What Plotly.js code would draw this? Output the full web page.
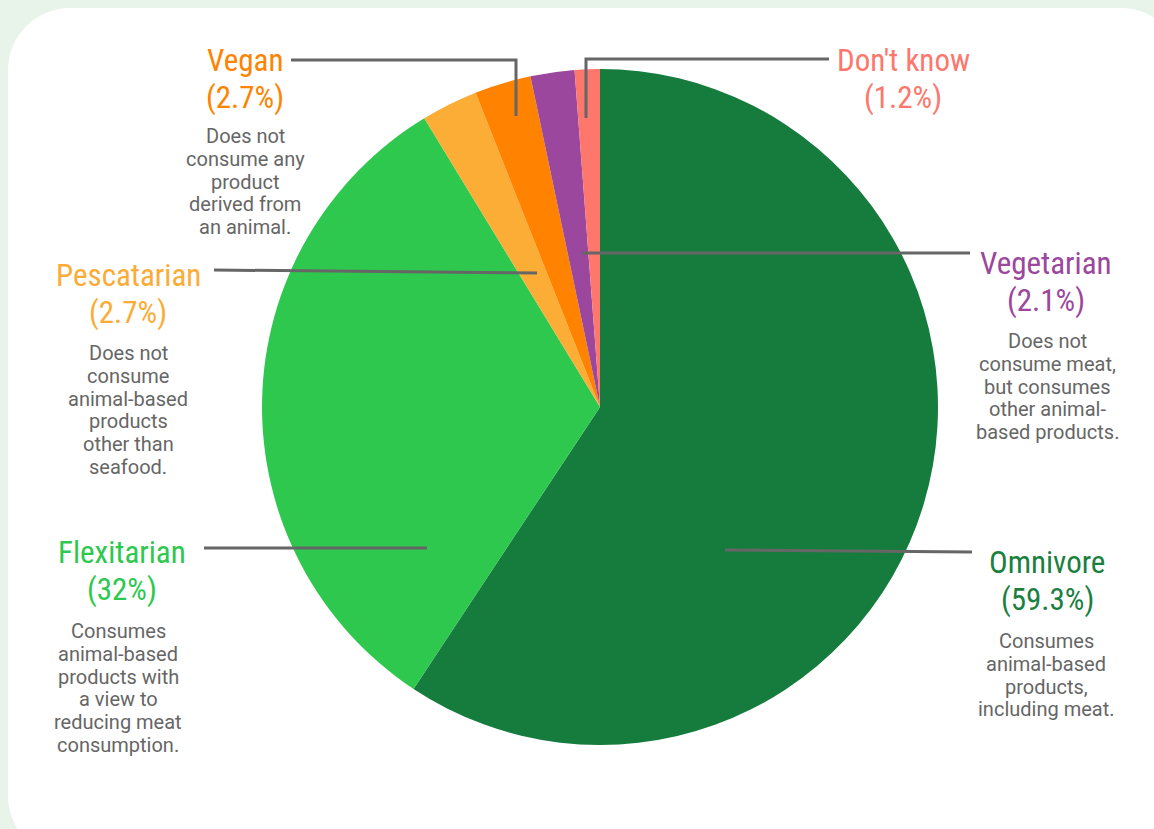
<!DOCTYPE html>
<html>
<head>
<meta charset="utf-8">
<script src="https://cdn.plot.ly/plotly-3.0.1.min.js"></script>
<style>
  html, body { margin: 0; padding: 0; background: #e8f3ea; overflow: hidden; }
  #card { position: absolute; left: 8px; top: 8px; width: 1175px; height: 850px; background: #ffffff; border-radius: 62px; }
  #chart { position: absolute; left: 0; top: 0; width: 1154px; height: 829px; }
</style>
</head>
<body>
<div id="card"></div>
<div id="chart"></div>
<script>
// ---- data ----
const categories = ["Omnivore", "Flexitarian", "Pescatarian", "Vegan", "Vegetarian", "Don't know"];
const shares = [59.3, 32, 2.7, 2.7, 2.1, 1.2];
const sliceColors = ["#167c3e", "#2dc84d", "#fcad36", "#ff8200", "#9b479d", "#fd776c"];
const labelColors = ["#1a7f3f", "#2dc84d", "#fbac36", "#ff8300", "#9b479d", "#fd776c"];
const descriptions = [
  ["Consumes", "animal-based", "products,", "including meat."],
  ["Consumes", "animal-based", "products with", "a view to", "reducing meat", "consumption."],
  ["Does not", "consume", "animal-based", "products", "other than", "seafood."],
  ["Does not", "consume any", "product", "derived from", "an animal."],
  ["Does not", "consume meat,", "but consumes", "other animal-", "based products."],
  []
];

// ---- layout helpers (pixel positions of callouts) ----
const W = 1154, H = 829;
const titlePos = [
  {x: 1047, y: 562}, {x: 122, y: 552}, {x: 128, y: 275},
  {x: 245, y: 60}, {x: 1046, y: 263}, {x: 903, y: 60}
];
const pctGap = 37;
const descPos = [
  {x: 1046, y: 641}, {x: 118, y: 631}, {x: 128, y: 353},
  {x: 245, y: 136}, {x: 1047, y: 341}, null
];
const descGap = 22.8;
const leaders = [
  [[725, 550], [972, 552]],
  [[204, 548], [427, 548]],
  [[214, 270], [537, 273]],
  [[291, 60], [516, 60], [516, 116]],
  [[970, 253], [582, 253]],
  [[829, 59], [586, 59], [586, 118]]
];

const titleFont = "'Roboto Condensed', 'Liberation Sans Narrow', Roboto, sans-serif";
const bodyFont = "Roboto, 'Noto Sans', sans-serif";

const annotations = [];
function addText(x, y, text, font) {
  annotations.push({
    xref: 'x', yref: 'y', x: x, y: y, text: text, showarrow: false,
    xanchor: 'center', yanchor: 'middle', align: 'center', font: font
  });
}
categories.forEach((c, i) => {
  const tf = {family: titleFont, size: 31, color: labelColors[i]};
  addText(titlePos[i].x, titlePos[i].y, c, tf);
  addText(titlePos[i].x, titlePos[i].y + pctGap, '(' + shares[i] + '%)', tf);
  if (descPos[i]) {
    descriptions[i].forEach((line, k) => {
      addText(descPos[i].x, descPos[i].y + k * descGap, line,
        {family: bodyFont, size: 20, color: '#666666'});
    });
  }
});

const shapes = [];
leaders.forEach(pts => {
  let path = 'M' + pts.map(p => p[0] + ',' + p[1]).join(' L');
  shapes.push({type: 'path', xref: 'x', yref: 'y', path: path,
    line: {color: '#666666', width: 3}});
});

const trace = {
  type: 'pie',
  labels: categories,
  values: shares,
  sort: false,
  direction: 'clockwise',
  rotation: 0,
  marker: {colors: sliceColors, line: {width: 0}},
  textinfo: 'none',
  hoverinfo: 'label+percent',
  showlegend: false,
  domain: {x: [262 / W, 938 / W], y: [(H - 745) / H, (H - 69) / H]}
};

const layout = {
  width: W, height: H,
  margin: {l: 0, r: 0, t: 0, b: 0},
  paper_bgcolor: 'rgba(0,0,0,0)',
  plot_bgcolor: 'rgba(0,0,0,0)',
  xaxis: {range: [0, W], visible: false, fixedrange: true},
  yaxis: {range: [H, 0], visible: false, fixedrange: true},
  showlegend: false,
  annotations: annotations,
  shapes: shapes
};

Plotly.newPlot('chart', [trace], layout, {displayModeBar: false, staticPlot: true});
</script>
</body>
</html>
